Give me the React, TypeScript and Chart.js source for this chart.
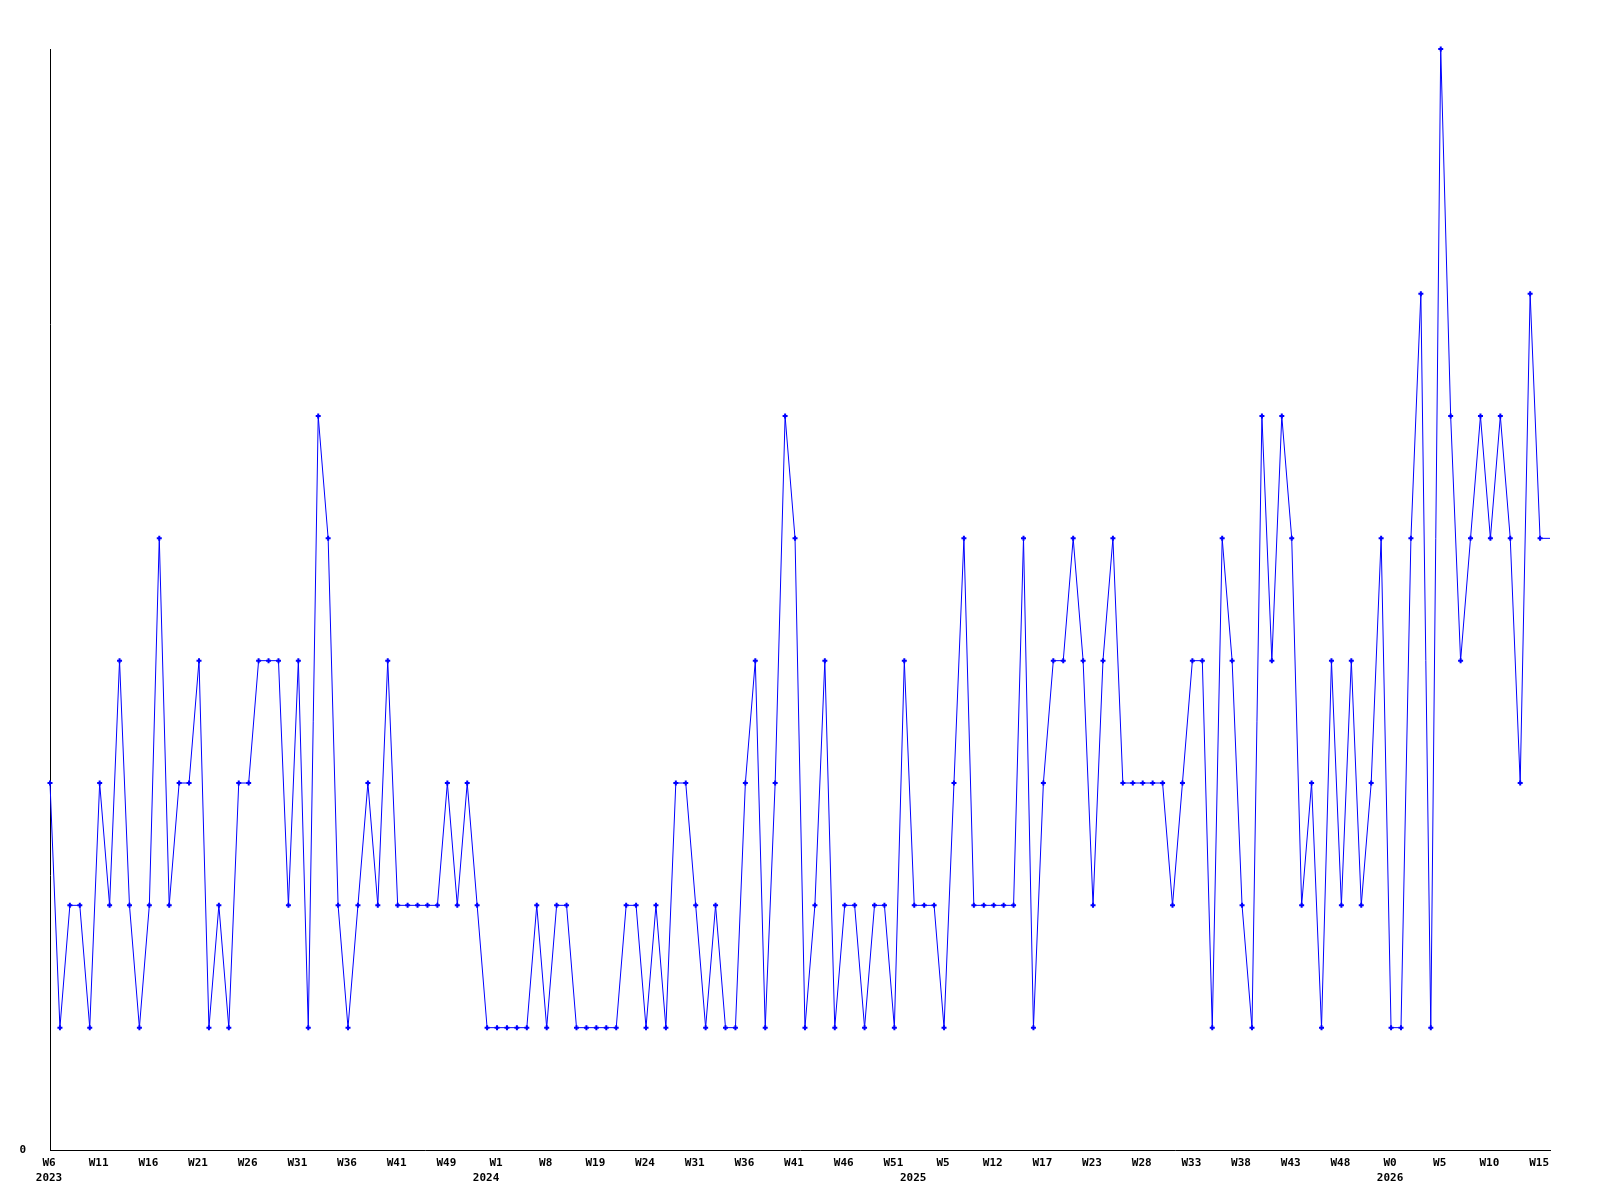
import { useEffect, useRef } from "react";
import { Chart, registerables } from "chart.js";

Chart.register(...registerables);

// Weekly counts, one per category (last entry repeats the final value to carry the line to the edge)
const values: number[] = [
  3, 1, 2, 2, 1, 3, 2, 4, 2, 1,
  2, 5, 2, 3, 3, 4, 1, 2, 1, 3,
  3, 4, 4, 4, 2, 4, 1, 6, 5, 2,
  1, 2, 3, 2, 4, 2, 2, 2, 2, 2,
  3, 2, 3, 2, 1, 1, 1, 1, 1, 2,
  1, 2, 2, 1, 1, 1, 1, 1, 2, 2,
  1, 2, 1, 3, 3, 2, 1, 2, 1, 1,
  3, 4, 1, 3, 6, 5, 1, 2, 4, 1,
  2, 2, 1, 2, 2, 1, 4, 2, 2, 2,
  1, 3, 5, 2, 2, 2, 2, 2, 5, 1,
  3, 4, 4, 5, 4, 2, 4, 5, 3, 3,
  3, 3, 3, 2, 3, 4, 4, 1, 5, 4,
  2, 1, 6, 4, 6, 5, 2, 3, 1, 4,
  2, 4, 2, 3, 5, 1, 1, 5, 7, 1,
  9, 6, 4, 5, 6, 5, 6, 5, 3, 7,
  5, 5,
];

// Week tick labels, shown on every 5th category
const weekTicks: string[] = [
  "W6", "W11", "W16", "W21", "W26", "W31", "W36", "W41", "W49",
  "W1", "W8", "W19", "W24", "W31", "W36", "W41", "W46", "W51",
  "W5", "W12", "W17", "W23", "W28", "W33", "W38", "W43", "W48",
  "W0", "W5", "W10", "W15",
];
const weekTickEvery = 5;

// Year labels (category index, year)
const yearIndex: number[] = [0, 44, 87, 135];
const yearLabels: string[] = ["2023", "2024", "2025", "2026"];

const yMin = 0;
const yMax = 9;

const FONT = { family: "'DejaVu Sans Mono', monospace", size: 11, weight: "bold" as const, lineHeight: 1.4 };

export default function App() {
  const ref = useRef<HTMLCanvasElement | null>(null);

  useEffect(() => {
    if (!ref.current) return;
    const labels = values.map((_, i) => {
      const w = i % weekTickEvery === 0 ? weekTicks[i / weekTickEvery] ?? "" : "";
      const yi = yearIndex.indexOf(i);
      return yi >= 0 ? [w, yearLabels[yi]] : w;
    });
    const radii = values.map((_, i) => (i === values.length - 1 ? 0 : 2.5));

    const chart = new Chart(ref.current, {
      type: "line",
      data: {
        labels,
        datasets: [
          {
            data: values,
            borderColor: "#0000ff",
            backgroundColor: "#0000ff",
            borderWidth: 1,
            tension: 0,
            fill: false,
            pointStyle: "cross",
            pointRadius: radii,
            pointBorderWidth: 2,
            pointBorderColor: "#0000ff",
            pointHoverRadius: 0,
            clip: false as any,
          },
        ],
      },
      options: {
        animation: false,
        responsive: false,
        devicePixelRatio: 1,
        events: [],
        layout: { padding: { top: 49, right: 50, left: 0, bottom: 0 } },
        plugins: {
          legend: { display: false },
          tooltip: { enabled: false },
          title: { display: false },
        },
        scales: {
          x: {
            type: "category",
            offset: false,
            grid: { display: false, drawTicks: false },
            border: { display: true, color: "#000000", width: 1 },
            ticks: {
              autoSkip: false,
              maxRotation: 0,
              minRotation: 0,
              padding: 5,
              labelOffset: -1,
              color: "#000000",
              font: FONT,
            },
            afterFit: (s: any) => {
              s.height = 50;
              s.paddingLeft = 0;
              s.paddingRight = 0;
            },
          },
          y: {
            min: yMin,
            max: yMax,
            grid: { display: false, drawTicks: false },
            border: { display: true, color: "#000000", width: 1 },
            ticks: {
              stepSize: 1,
              padding: 24,
              color: "#000000",
              font: FONT,
              callback: (v: any) => (Number(v) === 0 ? "0" : ""),
            },
            afterFit: (s: any) => {
              s.width = 50;
            },
          },
        },
      },
    });
    return () => chart.destroy();
  }, []);

  return (
    <div style={{ position: "absolute", left: 0, top: 0, width: 1600, height: 1200, background: "#fff" }}>
      <canvas ref={ref} width={1600} height={1200} style={{ display: "block", width: 1600, height: 1200 }} />
    </div>
  );
}
